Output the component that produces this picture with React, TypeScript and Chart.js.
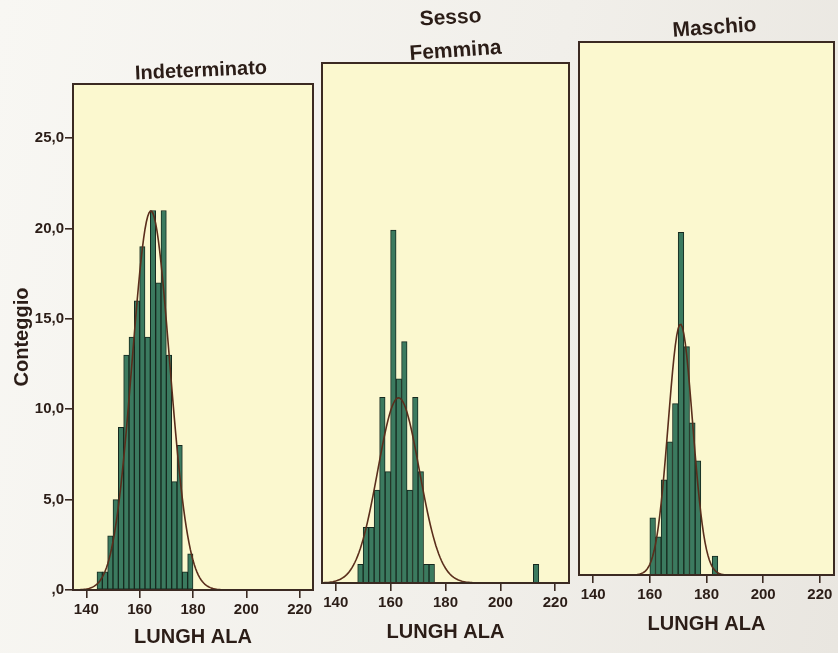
import React, { useEffect, useRef } from 'react';
import { Chart, registerables } from 'chart.js';

Chart.register(...registerables);

// ---- axis definitions ----
const X_TICKS = [140, 160, 180, 200, 220];
const Y_TICKS = [0, 5, 10, 15, 20, 25];
const Y_TICK_LABELS = [',0', '5,0', '10,0', '15,0', '20,0', '25,0'];
const X_MIN = 135;
const X_MAX = 225;
const Y_MAX = 28;
const BIN_WIDTH = 2;

// ---- data: Indeterminato ----
const IND_BINS = [145, 147, 149, 151, 153, 155, 157, 159, 161, 163, 165, 167, 169, 171, 173, 175, 177, 179];
const IND_COUNTS = [1, 1, 3, 5, 9, 13, 14, 16, 19, 14, 21, 17, 21, 13, 6, 8, 1, 2];
const IND_MEAN = 164.2;
const IND_SD = 7.0;

// ---- data: Femmina ----
const FEM_BINS = [149, 151, 153, 155, 157, 159, 161, 163, 165, 167, 169, 171, 173, 175, 213];
const FEM_COUNTS = [1, 3, 3, 5, 10, 6, 19, 11, 13, 5, 10, 6, 1, 1, 1];
const FEM_MEAN = 162.9;
const FEM_SD = 7.6;

// ---- data: Maschio ----
const MAS_BINS = [161, 163, 165, 167, 169, 171, 173, 175, 177, 183];
const MAS_COUNTS = [3, 2, 5, 7, 9, 18, 12, 8, 6, 1];
const MAS_MEAN = 170.8;
const MAS_SD = 4.3;

const FONT = "'Liberation Sans', Arial, sans-serif";
const TEXT = '#2b1d17';
const PANEL_FILL = '#fbf8cf';
const FRAME = '#3b2a22';
const BAR_FILL = '#3b7a5f';
const BAR_EDGE = '#16291f';
const CURVE = '#5a2e1c';

function normalCurve(mean: number, sd: number, n: number) {
  const pts: { x: number; y: number }[] = [];
  const k = (n * BIN_WIDTH) / (sd * Math.sqrt(2 * Math.PI));
  for (let x = X_MIN; x <= X_MAX + 1e-9; x += 0.5) {
    const z = (x - mean) / sd;
    pts.push({ x, y: k * Math.exp(-0.5 * z * z) });
  }
  return pts;
}

const framePlugin = {
  id: 'panelFrame',
  beforeDraw(chart: any) {
    const { ctx, chartArea } = chart;
    const { left, top, right, bottom } = chartArea;
    ctx.save();
    ctx.fillStyle = PANEL_FILL;
    ctx.fillRect(left, top, right - left, bottom - top);
    ctx.restore();
  },
  afterDraw(chart: any) {
    const { ctx, chartArea } = chart;
    const { left, top, right, bottom } = chartArea;
    ctx.save();
    ctx.strokeStyle = FRAME;
    ctx.lineWidth = 2;
    ctx.strokeRect(left, top, right - left, bottom - top);
    ctx.restore();
  },
};

type TitleLine = { text: string; size: number; dx: number; dy: number; rot: number };

const titlePlugin = {
  id: 'panelTitles',
  afterDraw(chart: any, _args: any, opts: any) {
    const { ctx, chartArea } = chart;
    const cx = (chartArea.left + chartArea.right) / 2;
    (opts.lines || []).forEach((l: TitleLine) => {
      ctx.save();
      ctx.font = `bold ${l.size}px ${FONT}`;
      ctx.fillStyle = TEXT;
      ctx.textAlign = 'center';
      ctx.textBaseline = 'middle';
      ctx.translate(cx + l.dx, chartArea.top + l.dy);
      ctx.rotate((l.rot * Math.PI) / 180);
      ctx.fillText(l.text, 0, 0);
      ctx.restore();
    });
  },
};

type PanelCfg = {
  bins: number[];
  counts: number[];
  mean: number;
  sd: number;
  showY: boolean;
  padding: { left: number; right: number; top: number; bottom: number };
  xHeight: number;
  xTitlePad: number;
  titles: TitleLine[];
};

function makeConfig(p: PanelCfg): any {
  const n = p.counts.reduce((a, b) => a + b, 0);
  return {
    type: 'bar',
    data: {
      datasets: [
        {
          type: 'line',
          data: normalCurve(p.mean, p.sd, n),
          borderColor: CURVE,
          borderWidth: 1.6,
          pointRadius: 0,
          tension: 0,
          order: 0,
        },
        {
          type: 'bar',
          data: p.bins.map((b, i) => ({ x: b, y: p.counts[i] })),
          backgroundColor: BAR_FILL,
          borderColor: BAR_EDGE,
          borderWidth: 1,
          borderSkipped: false,
          barPercentage: 1,
          categoryPercentage: 1,
          order: 1,
        },
      ],
    },
    options: {
      responsive: false,
      animation: false,
      devicePixelRatio: 1,
      layout: { padding: p.padding, autoPadding: false },
      plugins: {
        legend: { display: false },
        tooltip: { enabled: false },
        title: { display: false },
        panelTitles: { lines: p.titles },
      },
      scales: {
        x: {
          type: 'linear',
          min: X_MIN,
          max: X_MAX,
          offset: false,
          afterBuildTicks: (axis: any) => {
            axis.ticks = X_TICKS.map((v) => ({ value: v }));
          },
          afterFit: (axis: any) => {
            axis.height = p.xHeight;
          },
          grid: {
            display: true,
            offset: false,
            drawOnChartArea: false,
            drawTicks: true,
            tickLength: 8,
            color: FRAME,
            lineWidth: 1.6,
          },
          border: { display: true, color: FRAME, width: 2 },
          ticks: {
            color: TEXT,
            padding: 3,
            maxRotation: 0,
            font: { family: FONT, size: 15, weight: 'bold' },
          },
          title: {
            display: true,
            text: 'LUNGH ALA',
            color: TEXT,
            font: { family: FONT, size: 20, weight: 'bold', lineHeight: 1.2 },
            padding: { top: 0, bottom: p.xTitlePad },
          },
        },
        y: {
          display: p.showY,
          min: 0,
          max: Y_MAX,
          afterBuildTicks: (axis: any) => {
            axis.ticks = Y_TICKS.map((v) => ({ value: v }));
          },
          afterFit: (axis: any) => {
            axis.width = p.showY ? 70 : 0;
          },
          grid: {
            display: true,
            offset: false,
            drawOnChartArea: false,
            drawTicks: true,
            tickLength: 8,
            color: FRAME,
            lineWidth: 1.6,
          },
          border: { display: true, color: FRAME, width: 2 },
          ticks: {
            color: TEXT,
            padding: 1,
            font: { family: FONT, size: 15, weight: 'bold' },
            callback: (v: any) => {
              const i = Y_TICKS.indexOf(Number(v));
              return i >= 0 ? Y_TICK_LABELS[i] : '';
            },
          },
          title: {
            display: true,
            text: 'Conteggio',
            color: TEXT,
            font: { family: FONT, size: 20, weight: 'bold', lineHeight: 1.2 },
            padding: { top: 7, bottom: 0 },
          },
        },
      },
    },
    plugins: [framePlugin, titlePlugin],
  };
}

const PANELS: PanelCfg[] = [
  {
    bins: IND_BINS,
    counts: IND_COUNTS,
    mean: IND_MEAN,
    sd: IND_SD,
    showY: true,
    padding: { left: 3, right: 525, top: 84, bottom: 3 },
    xHeight: 60,
    xTitlePad: 1,
    titles: [{ text: 'Indeterminato', size: 20, dx: 8, dy: -13, rot: -2.5 }],
  },
  {
    bins: FEM_BINS,
    counts: FEM_COUNTS,
    mean: FEM_MEAN,
    sd: FEM_SD,
    showY: false,
    padding: { left: 322, right: 269, top: 63, bottom: 8 },
    xHeight: 62,
    xTitlePad: 1,
    titles: [
      { text: 'Sesso', size: 21, dx: 5, dy: -45, rot: -3 },
      { text: 'Femmina', size: 21, dx: 10, dy: -12, rot: -4 },
    ],
  },
  {
    bins: MAS_BINS,
    counts: MAS_COUNTS,
    mean: MAS_MEAN,
    sd: MAS_SD,
    showY: false,
    padding: { left: 579, right: 4, top: 42, bottom: 16 },
    xHeight: 62,
    xTitlePad: 1,
    titles: [{ text: 'Maschio', size: 21, dx: 8, dy: -14, rot: -4 }],
  },
];

export default function App() {
  const r0 = useRef<HTMLCanvasElement>(null);
  const r1 = useRef<HTMLCanvasElement>(null);
  const r2 = useRef<HTMLCanvasElement>(null);

  useEffect(() => {
    const refs = [r0, r1, r2];
    const charts = PANELS.map((p, i) => new Chart(refs[i].current as HTMLCanvasElement, makeConfig(p)));
    return () => charts.forEach((c) => c.destroy());
  }, []);

  const cs: React.CSSProperties = { position: 'absolute', left: 0, top: 0, width: 838, height: 653 };
  return (
    <div
      style={{
        position: 'absolute',
        left: 0,
        top: 0,
        width: 838,
        height: 653,
        overflow: 'hidden',
        background: 'linear-gradient(100deg, #f8f7f3 0%, #f1efea 60%, #e9e6e0 100%)',
      }}
    >
      <canvas ref={r0} width={838} height={653} style={cs} />
      <canvas ref={r1} width={838} height={653} style={cs} />
      <canvas ref={r2} width={838} height={653} style={cs} />
    </div>
  );
}
